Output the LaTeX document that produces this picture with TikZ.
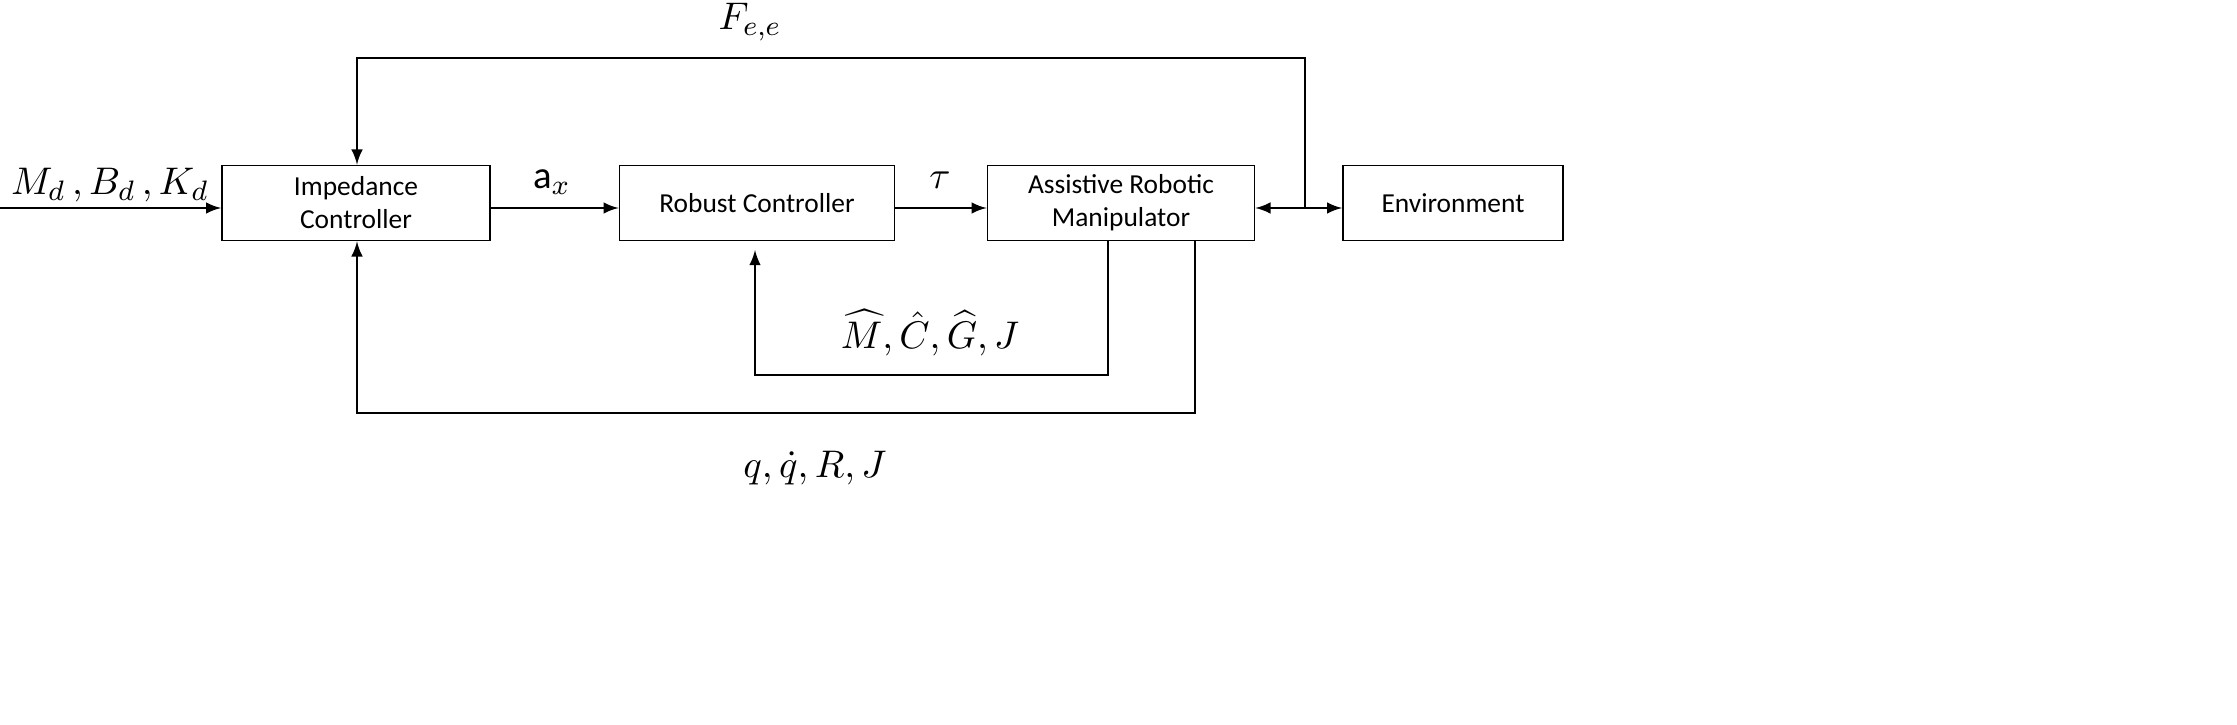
\documentclass[tikz,border=0pt]{standalone}
\usepackage{fontspec}
\setmainfont{Carlito}
\usepackage{amsmath}
\begin{document}
\begin{tikzpicture}[x=0.01cm,y=-0.01cm,line width=0.5pt,
  blk/.style={draw,minimum width=#1*0.01cm,minimum height=0.75cm,align=center,font=\fontsize{7.8}{9.4}\selectfont,inner sep=0pt},
  lab/.style={font=\fontsize{11}{13}\selectfont},
  >={latex}]
\useasboundingbox (0,0) rectangle (2237,725);
\node[blk=268] (imp) at (356,203) {Impedance\\Controller};
\node[blk=275] (rob) at (757,203) {Robust Controller};
\node[blk=267] (arm) at (1121,203) {Assistive Robotic\\Manipulator};
\node[blk=220] (env) at (1453,203) {Environment};
\coordinate (in) at (0,208);
\draw[->] (in) -- (imp.west |- in);
\node[lab] (lm) at (110,185) {$M_d\,,B_d\,,K_d$};
\draw[->] (imp.east |- in) -- (rob.west |- in);
\node[lab] (lax) at (552,182) {$\mathrm{a}_x$};
\draw[->] (rob.east |- in) -- (arm.west |- in);
\node[lab] (ltau) at (940,180) {$\tau$};
\draw[<->] (arm.east |- in) -- (env.west |- in);
\coordinate (j1) at (1305,208);
\coordinate (t1) at (1305,58);
\coordinate (t2) at (357,58);
\draw[->] (j1) -- (t1) -- (t2) -- (t2 |- imp.north);
\node[lab] (lf) at (750,22) {$F_{e,e}$};
\coordinate (r0) at (1108,240);
\coordinate (r1) at (1108,375);
\coordinate (r2) at (755,375);
\draw[->] (r0) -- (r1) -- (r2) -- (755,250);
\node[lab] (lm2) at (930,333) {$\widehat{M},\hat{C},\widehat{G},J$};
\coordinate (b0) at (1195,240);
\coordinate (b1) at (1195,413);
\coordinate (b2) at (357,413);
\draw[->] (b0) -- (b1) -- (b2) -- (b2 |- imp.south);
\node[lab] (lq) at (815,468) {$q,\dot{q},R,J$};
\end{tikzpicture}
\end{document}
